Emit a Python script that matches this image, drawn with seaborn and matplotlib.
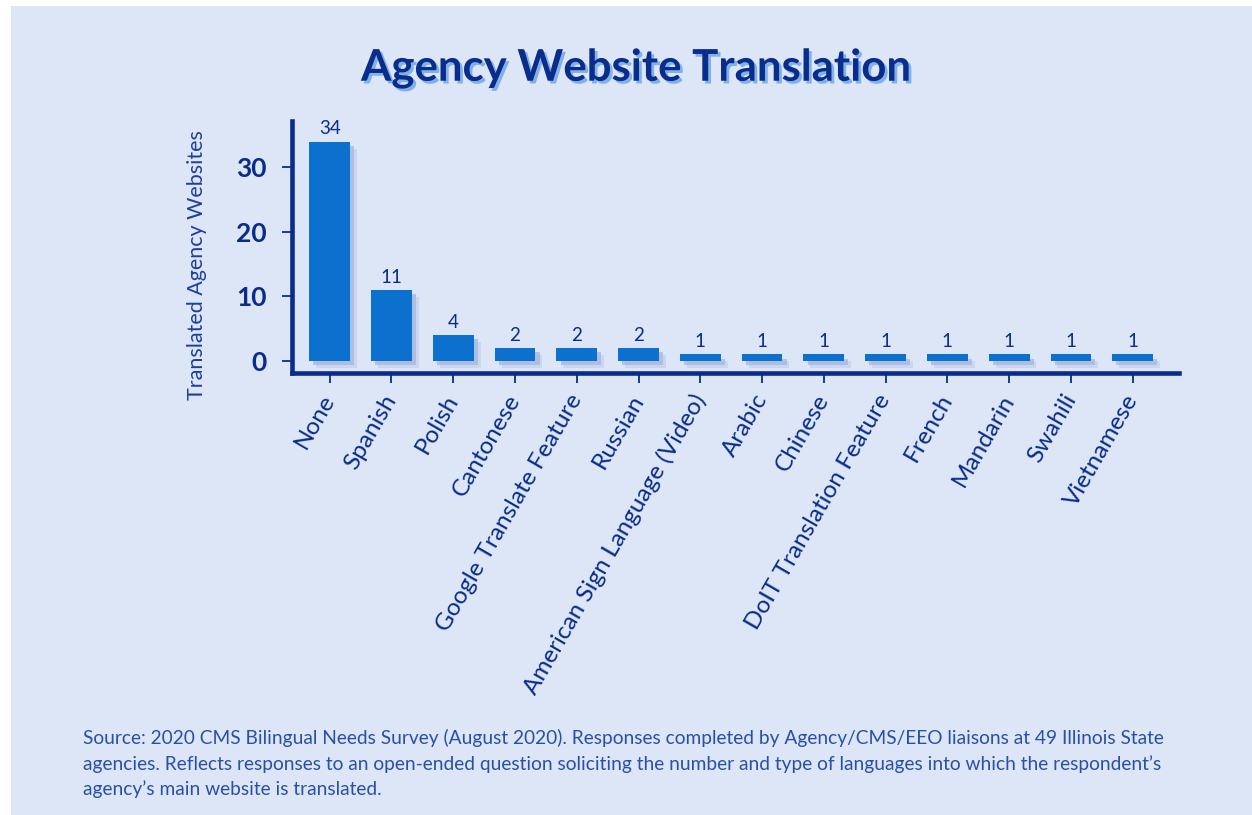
import matplotlib
matplotlib.use("Agg")
import matplotlib.pyplot as plt
import matplotlib.patheffects as pe
from matplotlib.patches import Rectangle
import seaborn as sns
import pandas as pd

# ---- data ----
categories = ["None", "Spanish", "Polish", "Cantonese", "Google Translate Feature",
              "Russian", "American Sign Language (Video)", "Arabic", "Chinese",
              "DoIT Translation Feature", "French", "Mandarin", "Swahili", "Vietnamese"]
values = [34, 11, 4, 2, 2, 2, 1, 1, 1, 1, 1, 1, 1, 1]
y_ticks = [0, 10, 20, 30]

title = "Agency Website Translation"
y_label = "Translated Agency Websites"
source = ("Source: 2020 CMS Bilingual Needs Survey (August 2020). Responses completed by Agency/CMS/EEO liaisons at 49 Illinois State\n"
          "agencies. Reflects responses to an open-ended question soliciting the number and type of languages into which the respondent\u2019s\n"
          "agency\u2019s main website is translated.")

# ---- style ----
BG = "#DCE6F6"
BAR = "#0B70CE"
NAVY = "#0A2C8A"
TEXT = "#1F3F9C"
FONT = ["Lato", "DejaVu Sans"]

sns.set_theme(style="white")
plt.rcParams["font.family"] = FONT

W, H = 1252, 815
fig = plt.figure(figsize=(W / 100, H / 100), dpi=100, facecolor="white")
fig.patches.append(Rectangle((11 / W, 0), 1 - 11 / W, 1 - 6 / H, transform=fig.transFigure,
                             facecolor=BG, edgecolor="none", zorder=-10))

ax = fig.add_axes([292 / W, 1 - 373 / H, (1179 - 292) / W, (373 - 121) / H])
ax.set_facecolor("none")

df = pd.DataFrame({"lang": categories, "count": values})
sns.barplot(data=df, x="lang", y="count", ax=ax, color=BAR, saturation=1, width=0.66,
            order=categories, linewidth=0, edgecolor=BAR)

for p in ax.patches:
    p.set_linewidth(0)
    p.set_path_effects([pe.SimplePatchShadow(offset=(3, -3), shadow_rgbFace="#7F95CF", alpha=0.45),
                        pe.SimplePatchShadow(offset=(5, -5), shadow_rgbFace="#A9B9E2", alpha=0.35),
                        pe.Normal()])

ax.bar_label(ax.containers[0], labels=[str(v) for v in values], padding=3,
             fontsize=13.5, color=NAVY)

ax.set_xlim(-0.61, 13.75)
ax.set_ylim(-1.875, 37.2)
ax.set_yticks(y_ticks)

for s in ["top", "right"]:
    ax.spines[s].set_visible(False)
for s in ["left", "bottom"]:
    ax.spines[s].set_visible(True)
    ax.spines[s].set_color(NAVY)
    ax.spines[s].set_linewidth(3.3)

ax.tick_params(axis="y", direction="out", length=7.5, width=1.3, color=NAVY, pad=11,
               labelsize=19, labelcolor=NAVY, left=True)
ax.tick_params(axis="x", direction="out", length=7.5, width=1.3, color=NAVY, pad=9,
               labelsize=17.5, labelcolor=NAVY, bottom=True)
for t in ax.get_yticklabels():
    t.set_fontweight("bold")
for t in ax.get_xticklabels():
    t.set_rotation(60)
    t.set_ha("right")
    t.set_va("center")
    t.set_rotation_mode("anchor")

ax.set_xlabel("")
ax.set_ylabel(y_label, fontsize=15.5, color=TEXT)
ax.yaxis.set_label_coords(-0.096, 0.43)

fig.text(0.508, 1 - 68 / H, title, ha="center", va="center", fontsize=31.5, fontweight="bold",
         color="#0A2C8A",
         path_effects=[pe.SimplePatchShadow(offset=(2, -2), shadow_rgbFace="#5A9BE3", alpha=0.7),
                       pe.Normal()])

fig.text(83 / W, 1 - 729 / H, source, ha="left", va="top", fontsize=13.8, color="#2A4FA8",
         linespacing=1.52)

fig.savefig("out.png", dpi=100, facecolor="white")
